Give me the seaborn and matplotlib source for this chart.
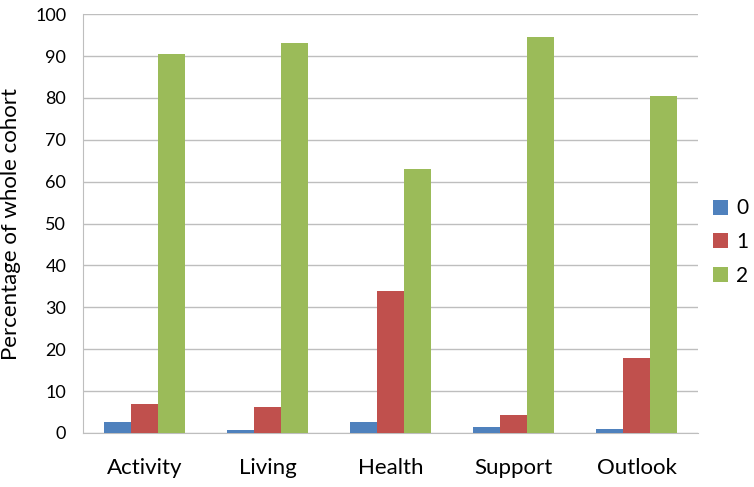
import pandas as pd
import numpy as np
import matplotlib.pyplot as plt
import seaborn as sns

categories = ['Activity', 'Living', 'Health', 'Support', 'Outlook']
score_0 = [2.5, 0.7, 2.5, 1.4, 1.0]
score_1 = [7.0, 6.3, 34.0, 4.2, 18.0]
score_2 = [90.5, 93.0, 63.0, 94.5, 80.5]

df = pd.DataFrame({
    'domain': categories * 3,
    'score': ['0'] * 5 + ['1'] * 5 + ['2'] * 5,
    'pct': score_0 + score_1 + score_2,
})

sns.set_style('white')
plt.rcParams['font.family'] = ['Lato', 'DejaVu Sans']
plt.rcParams['text.color'] = 'black'
plt.rcParams['axes.labelcolor'] = 'black'
plt.rcParams['xtick.labelcolor'] = 'black'
plt.rcParams['ytick.labelcolor'] = 'black'

fig = plt.figure(figsize=(7.54, 4.87), dpi=100)
ax = fig.add_axes([0.110, 0.111, 0.816, 0.860])

palette = ['#4F81BD', '#C0504D', '#9BBB59']
sns.barplot(data=df, x='domain', y='pct', hue='score', palette=palette,
            width=0.66, ax=ax, saturation=1, linewidth=0, zorder=3)

ax.set_ylim(0, 100)
ax.set_yticks(range(0, 101, 10))
ax.set_xlim(-0.5, 4.5)
ax.yaxis.grid(True, color='#BEBEBE', linewidth=1, zorder=0)
ax.set_axisbelow(True)
for s in ['top', 'right']:
    ax.spines[s].set_visible(False)
ax.spines['left'].set_color('#BEBEBE')
ax.spines['bottom'].set_color('#BEBEBE')

ax.set_xlabel('')
ax.set_ylabel('Percentage of whole cohort', fontsize=16, labelpad=10)
ax.tick_params(axis='x', length=0, labelsize=16, pad=18)
ax.tick_params(axis='y', length=6, color='#BEBEBE', labelsize=13, pad=6)
ax.set_xticks(np.arange(-0.5, 5, 1), minor=True)
ax.tick_params(axis='x', which='minor', length=7, color='#BEBEBE')

ax.legend(title=None, frameon=False, loc='center left',
          bbox_to_anchor=(0.945, 0.503), bbox_transform=fig.transFigure,
          fontsize=15, handlelength=0.75, handleheight=0.75, handletextpad=0.4,
          labelspacing=0.65, borderpad=0, borderaxespad=0)

fig.savefig('out.png', dpi=100)
